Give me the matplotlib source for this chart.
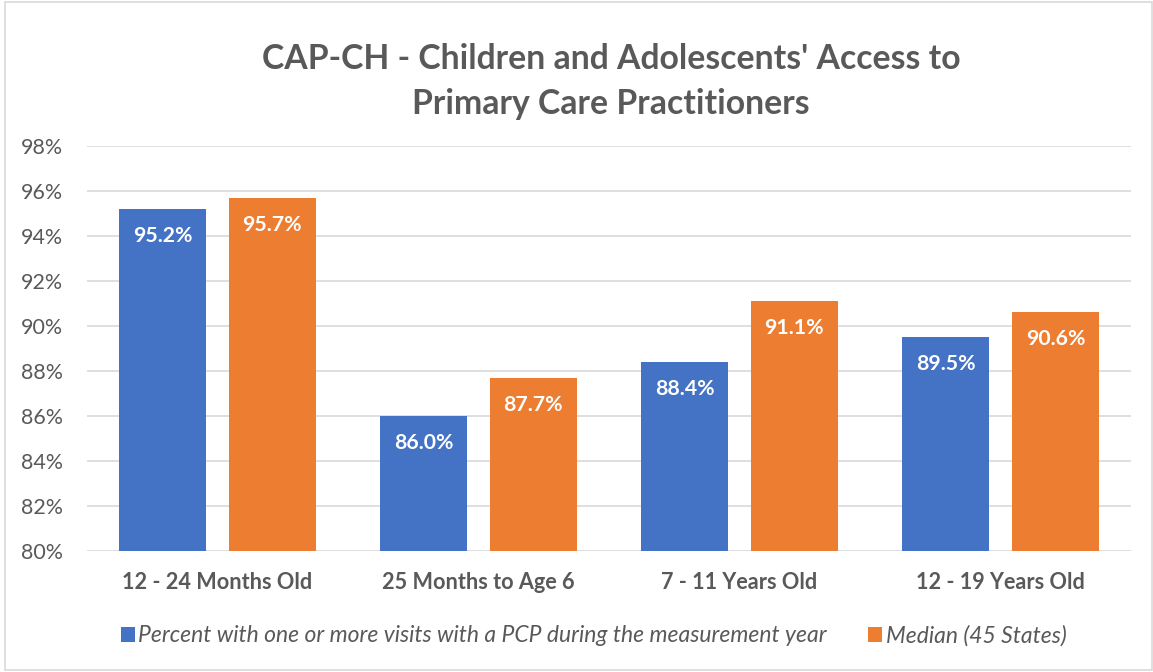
import numpy as np
import matplotlib.pyplot as plt
from matplotlib.patches import Rectangle

# data
categories = ["12 - 24 Months Old", "25 Months to Age 6", "7 - 11 Years Old", "12 - 19 Years Old"]
pcp_visits = [95.2, 86.0, 88.4, 89.5]
median_states = [95.7, 87.7, 91.1, 90.6]
series_names = ["Percent with one or more visits with a PCP during the measurement year",
                "Median (45 States)"]
yticks = [80, 82, 84, 86, 88, 90, 92, 94, 96, 98]

blue = "#4472C4"
orange = "#ED7D31"
gray = "#595959"

plt.rcParams['font.family'] = ['Lato', 'DejaVu Sans']

fig = plt.figure(figsize=(11.53, 6.72), dpi=100)
ax = fig.add_axes([0.0755, 0.180, 0.9055, 0.603])

x = np.arange(len(categories))
w = 0.333
off = 0.21
b1 = ax.bar(x - off, pcp_visits, w, color=blue, zorder=3)
b2 = ax.bar(x + off, median_states, w, color=orange, zorder=3)

for bars, vals in [(b1, pcp_visits), (b2, median_states)]:
    for b, v in zip(bars, vals):
        ax.annotate(f"{v:.1f}%", (b.get_x() + b.get_width() / 2, v),
                    xytext=(0, -19.5), textcoords="offset points",
                    ha="center", va="center", color="white",
                    fontsize=15.3, fontweight="bold", zorder=4)

ax.set_xlim(-0.5, 3.5)
ax.set_ylim(80, 98)
ax.set_yticks(yticks)
ax.set_yticklabels([f"{t}%" for t in yticks], fontsize=15.4, color=gray)
ax.set_xticks(x)
ax.set_xticklabels(categories, fontsize=15.6, fontweight="bold", color=gray)
ax.tick_params(axis="both", length=0)
ax.tick_params(axis="x", pad=15)
ax.tick_params(axis="y", pad=17)
ax.grid(axis="y", color="#D9D9D9", linewidth=1.2, zorder=0)
for s in ax.spines.values():
    s.set_visible(False)

fig.text(0.530, 0.879, "CAP-CH - Children and Adolescents' Access to\nPrimary Care Practitioners",
         ha="center", va="center", fontsize=24.3, fontweight="bold", color=gray,
         linespacing=1.5)

leg = fig.legend([b1, b2], series_names, loc="center", bbox_to_anchor=(0.515, 0.054),
                 ncol=2, frameon=False, handlelength=0.6, handleheight=0.6,
                 handletextpad=0.15, columnspacing=1.8,
                 prop={"size": 16.5, "style": "italic"})
for t in leg.get_texts():
    t.set_color(gray)

fig.patches.append(Rectangle((0.004, 0.003), 0.995, 0.994, transform=fig.transFigure,
                             fill=False, edgecolor="#D9D9D9", linewidth=1.2))

fig.savefig("out.png", dpi=100)
